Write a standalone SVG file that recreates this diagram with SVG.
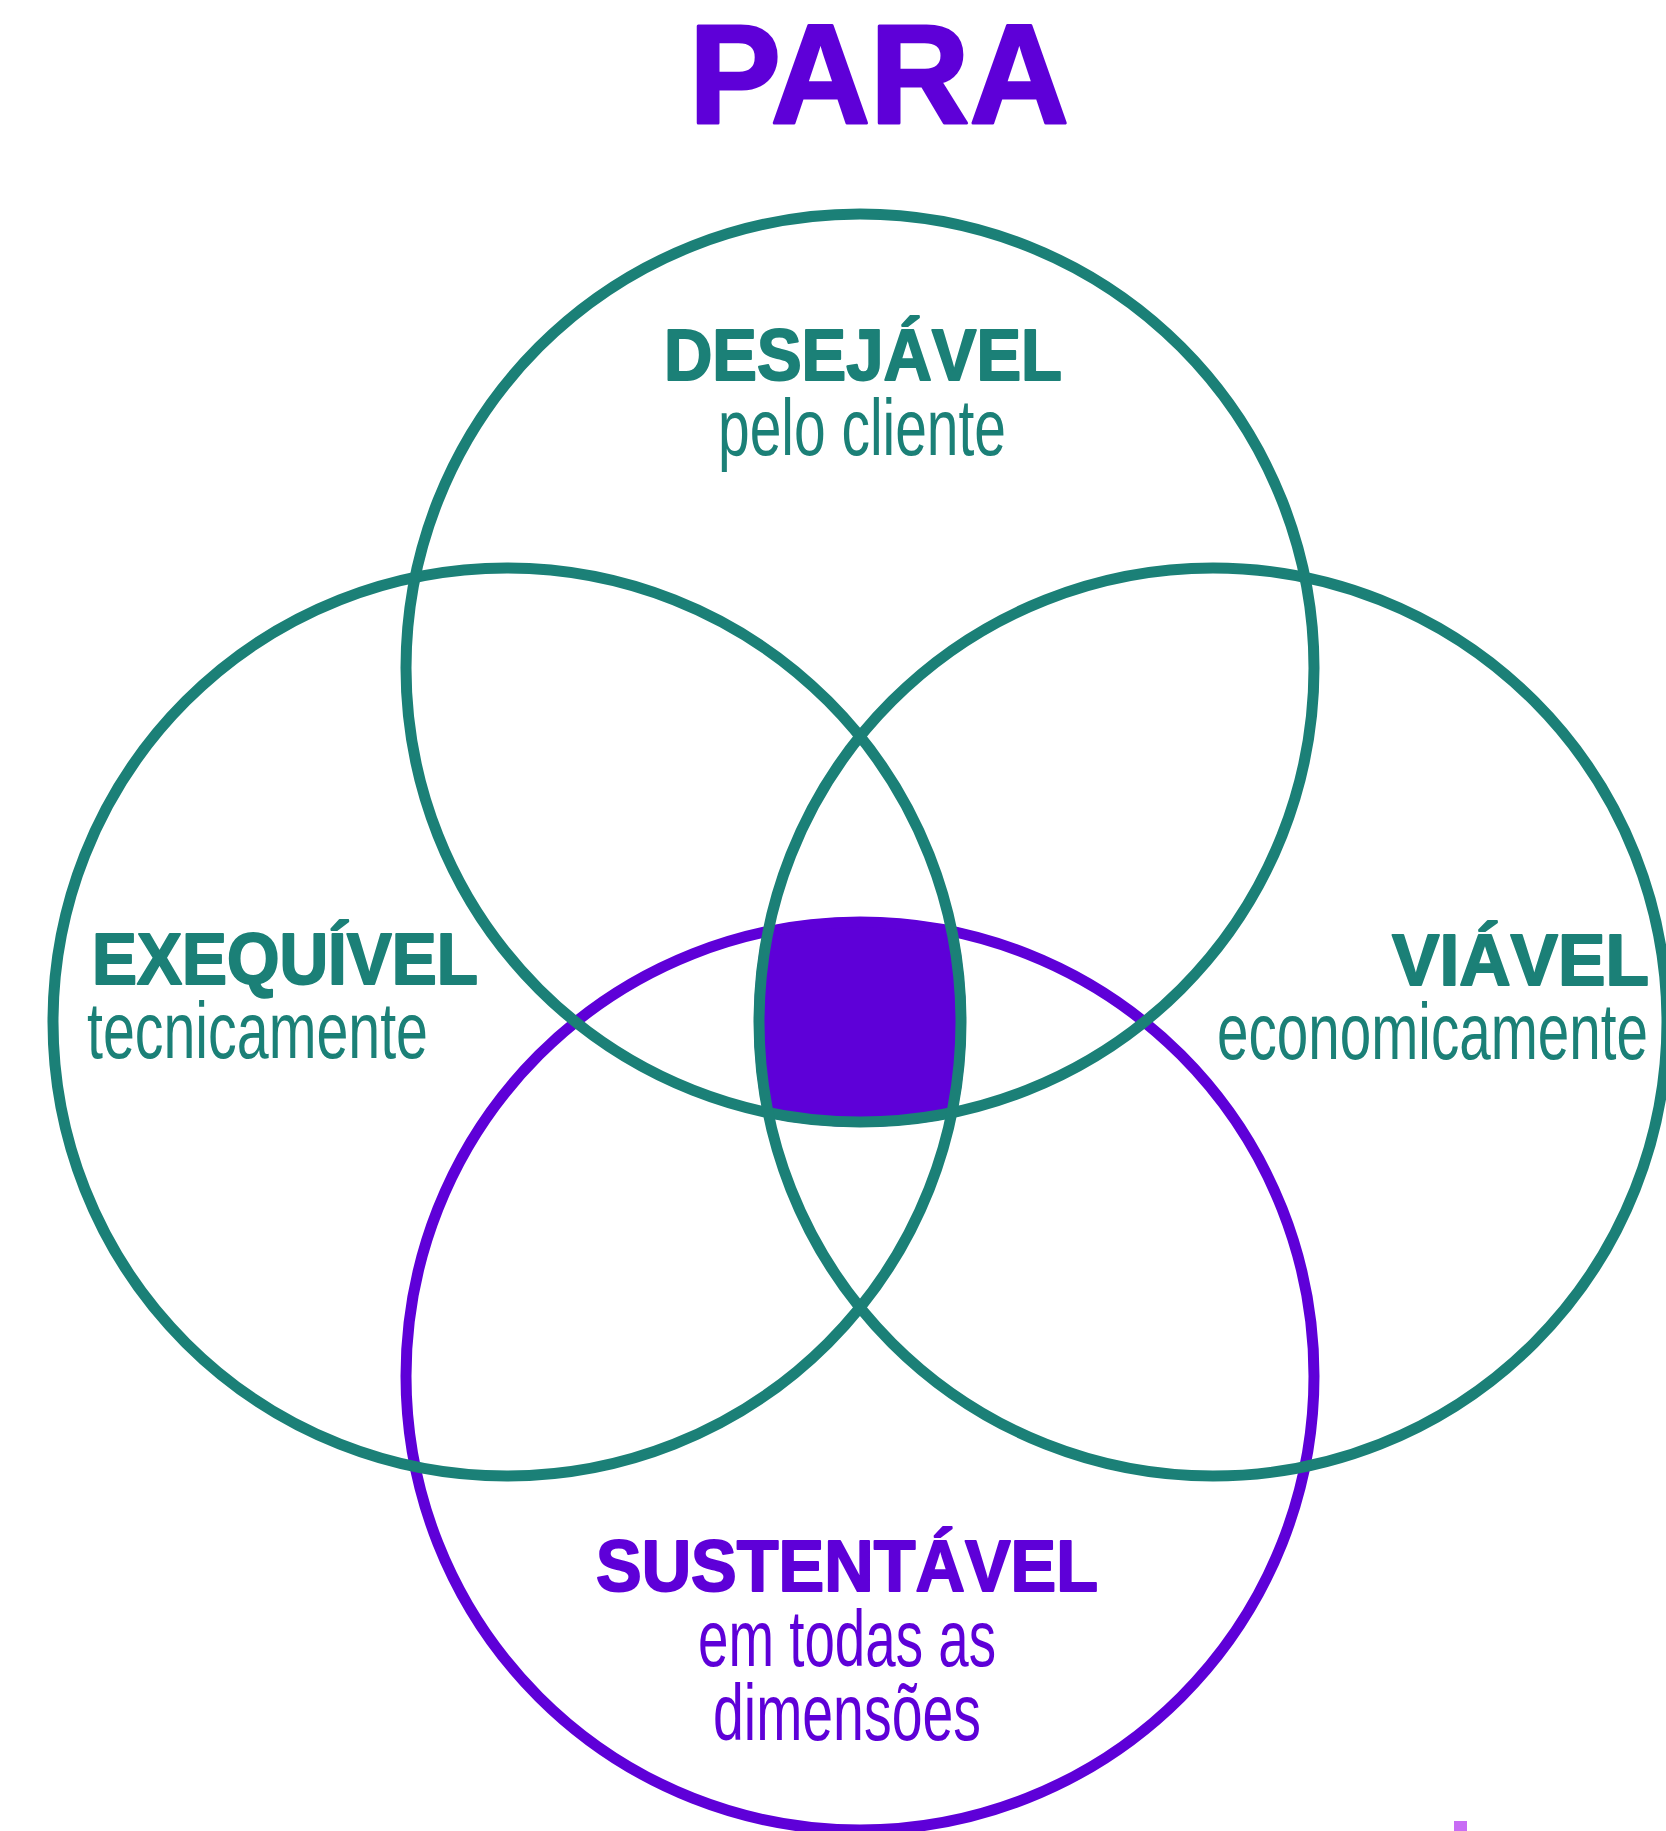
<svg xmlns="http://www.w3.org/2000/svg" width="1666" height="1831" viewBox="0 0 1666 1831">
<style>
.ring{fill:none;stroke-width:11}
.teal{stroke:#1b8077}
.purp{stroke:#5e00d8}
.h{font-family:"Liberation Sans",Arial,sans-serif;font-weight:bold;stroke-width:2;stroke-linejoin:round}
.s{font-family:"Liberation Sans",Arial,sans-serif;font-weight:normal}
.tt{fill:#1b8077}
.tp{fill:#5e00d8}
.h.tt{stroke:#1b8077}
.h.tp{stroke:#5e00d8}
</style>
<defs>
<clipPath id="cT"><circle cx="860" cy="668" r="459"/></clipPath>
<clipPath id="cL"><circle cx="507" cy="1022" r="459"/></clipPath>
<clipPath id="cR"><circle cx="1213" cy="1022" r="459"/></clipPath>
<clipPath id="cB"><circle cx="860" cy="1376" r="459"/></clipPath>
</defs>
<rect width="1666" height="1831" fill="#ffffff"/>
<text class="h tp" x="689" y="123" font-size="141" textLength="380" lengthAdjust="spacingAndGlyphs" style="stroke-width:3">PARA</text>
<g id="center">
<g clip-path="url(#cT)"><g clip-path="url(#cL)"><g clip-path="url(#cR)">
<circle cx="860" cy="1376" r="459" fill="#5e00d8" clip-path="url(#cB)"/>
</g></g></g>
</g>
<g id="connectors">
<circle id="ring-sustentavel" class="ring purp" cx="860" cy="1376" r="454"/>
<circle id="ring-desejavel" class="ring teal" cx="860" cy="668" r="454"/>
<circle id="ring-exequivel" class="ring teal" cx="507" cy="1022" r="454"/>
<circle id="ring-viavel" class="ring teal" cx="1213" cy="1022" r="454"/>
</g>
<g id="node-desejavel">
<text class="h tt" x="664" y="380" font-size="72" textLength="398" lengthAdjust="spacingAndGlyphs">DESEJÁVEL</text>
<text class="s tt" x="718" y="455" font-size="80" textLength="288" lengthAdjust="spacingAndGlyphs">pelo cliente</text>
</g>
<g id="node-exequivel">
<text class="h tt" x="92" y="984" font-size="72" textLength="386" lengthAdjust="spacingAndGlyphs">EXEQUÍVEL</text>
<text class="s tt" x="87" y="1058" font-size="80" textLength="341" lengthAdjust="spacingAndGlyphs">tecnicamente</text>
</g>
<g id="node-viavel">
<text class="h tt" x="1392" y="985" font-size="72" textLength="257" lengthAdjust="spacingAndGlyphs">VIÁVEL</text>
<text class="s tt" x="1217" y="1059" font-size="80" textLength="431" lengthAdjust="spacingAndGlyphs">economicamente</text>
</g>
<g id="node-sustentavel">
<text class="h tp" x="596" y="1591" font-size="72" textLength="502" lengthAdjust="spacingAndGlyphs">SUSTENTÁVEL</text>
<text class="s tp" x="698" y="1666" font-size="80" textLength="298" lengthAdjust="spacingAndGlyphs">em todas as</text>
<text class="s tp" x="713" y="1740" font-size="80" textLength="268" lengthAdjust="spacingAndGlyphs">dimensões</text>
</g>
<rect x="1454" y="1821" width="13" height="10" fill="#c86cf5"/>
</svg>
